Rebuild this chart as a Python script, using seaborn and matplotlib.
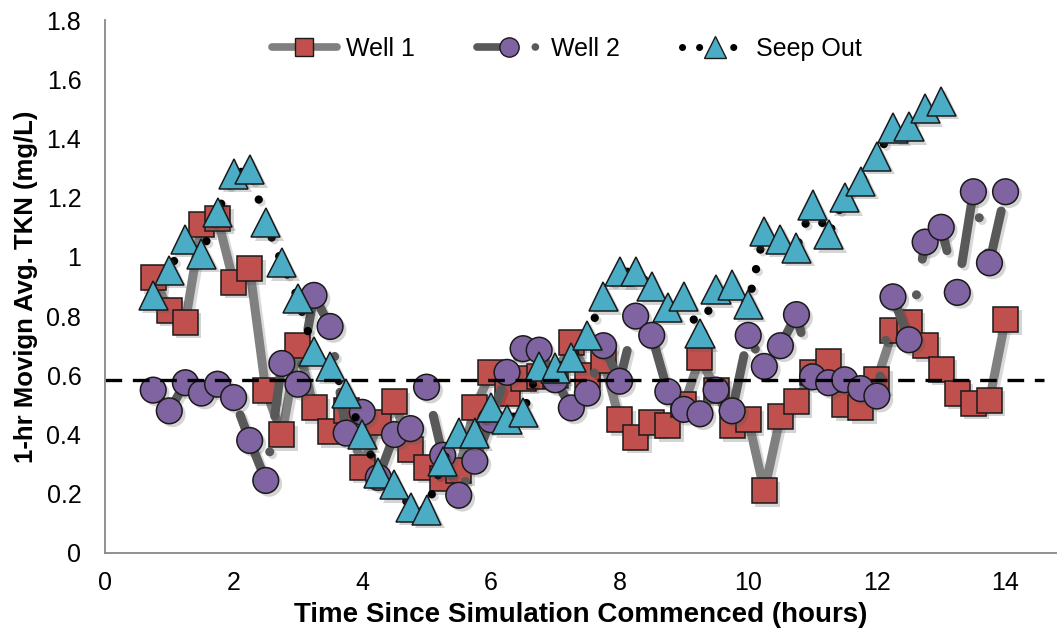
import numpy as np
import matplotlib
matplotlib.use("Agg")
import matplotlib.pyplot as plt
import matplotlib.patheffects as pe
from matplotlib.lines import Line2D
import seaborn as sns

# Sampling times (hours), 15-minute interval
well_hours = np.arange(0.75, 14.0 + 1e-9, 0.25)
seep_hours = np.arange(0.75, 13.0 + 1e-9, 0.25)

well1 = [0.93, 0.82, 0.78, 1.11, 1.13, 0.915, 0.96, 0.55, 0.40, 0.70,
         0.49, 0.41, 0.48, 0.29, 0.44, 0.51, 0.35, 0.29, 0.25, 0.28,
         0.49, 0.61, 0.54, 0.59, 0.595, 0.60, 0.71, 0.60, 0.65, 0.45,
         0.39, 0.44, 0.43, 0.50, 0.66, 0.55, 0.43, 0.45, 0.21, 0.46,
         0.51, 0.61, 0.645, 0.50, 0.49, 0.585, 0.75, 0.78, 0.70, 0.62,
         0.54, 0.505, 0.515, 0.79]

well2 = [0.55, 0.48, 0.575, 0.54, 0.57, 0.525, 0.38, 0.245, 0.64, 0.57,
         0.87, 0.765, 0.405, 0.475, 0.255, 0.40, 0.42, 0.56, 0.33, 0.195,
         0.31, 0.45, 0.61, 0.69, 0.685, 0.585, 0.49, 0.54, 0.70, 0.58,
         0.80, 0.735, 0.545, 0.485, 0.47, 0.55, 0.48, 0.735, 0.63, 0.70,
         0.805, 0.595, 0.575, 0.585, 0.555, 0.53, 0.865, 0.72, 1.05, 1.10,
         0.88, 1.22, 0.98, 1.22]

seep_out = [0.87, 0.955, 1.06, 1.01, 1.15, 1.28, 1.295, 1.115, 0.98, 0.86,
            0.68, 0.63, 0.54, 0.40, 0.27, 0.23, 0.155, 0.145, 0.31, 0.405,
            0.405, 0.49, 0.45, 0.475, 0.63, 0.625, 0.66, 0.735, 0.865, 0.95,
            0.95, 0.90, 0.83, 0.865, 0.74, 0.89, 0.905, 0.84, 1.085, 1.06,
            1.03, 1.175, 1.075, 1.20, 1.255, 1.34, 1.435, 1.44, 1.50, 1.525]

reference_level = 0.585
series_names = ["Well 1", "Well 2", "Seep Out"]
x_ticks = [0, 2, 4, 6, 8, 10, 12, 14]
y_ticks = [0, 0.2, 0.4, 0.6, 0.8, 1, 1.2, 1.4, 1.6, 1.8]
y_tick_labels = ["0", "0.2", "0.4", "0.6", "0.8", "1", "1.2", "1.4", "1.6", "1.8"]

sns.set_theme(style="white")
plt.rcParams["font.family"] = ["Liberation Sans", "DejaVu Sans"]
plt.rcParams["text.color"] = "black"
plt.rcParams["axes.labelcolor"] = "black"

fig = plt.figure(figsize=(10.57, 6.37), dpi=100)
ax = fig.add_axes([0.0993, 0.1319, 0.9007, 0.8367])

line_shadow = [pe.SimpleLineShadow(offset=(2, -2), alpha=0.15, shadow_color="black"), pe.Normal()]
mark_shadow = [pe.SimplePatchShadow(offset=(2.5, -2.5), alpha=0.25, shadow_rgbFace="#555555"), pe.Normal()]

styles = [
    dict(x=well_hours, y=well1, color="#808080", ls="-", lw=6.5,
         marker="s", ms=18, fc="#C0504D", leg_ls="-"),
    dict(x=well_hours, y=well2, color="#595959", ls=(0, (7, 4, 0.01, 4)), lw=6.5,
         marker="o", ms=18.5, fc="#8064A2", leg_ls=(0, (4.2, 3.4, 0.01, 3))),
    dict(x=seep_hours, y=seep_out, color="black", ls=(0, (0.01, 2.4)), lw=6,
         marker="^", ms=21, fc="#4BACC6", leg_ls=(0, (0.01, 2.4))),
]

for st in styles:
    sns.lineplot(x=st["x"], y=st["y"], ax=ax, sort=False, errorbar=None,
                 color=st["color"], linestyle=st["ls"], linewidth=st["lw"],
                 dash_capstyle="round", solid_capstyle="round",
                 path_effects=line_shadow, legend=False)
    sns.lineplot(x=st["x"], y=st["y"], ax=ax, sort=False, errorbar=None,
                 linestyle="none", marker=st["marker"], markersize=st["ms"],
                 markerfacecolor=st["fc"], markeredgecolor="#1a1a1a",
                 markeredgewidth=1.1, path_effects=mark_shadow, legend=False)

ax.axhline(reference_level, xmin=0, xmax=14.6 / 14.8, color="black", lw=2.4,
           linestyle=(0, (5.0, 3.2)))

# Legend proxies combining line and marker
handles = [
    Line2D([], [], color=st["color"], linestyle=st["leg_ls"], linewidth=st["lw"] * 0.85,
           dash_capstyle="round", solid_capstyle="round",
           marker=st["marker"], markersize=st["ms"] * 0.75,
           markerfacecolor=st["fc"], markeredgecolor="#1a1a1a", markeredgewidth=1.0)
    for st in styles
]
leg = ax.legend(handles, series_names, loc="upper center", bbox_to_anchor=(0.485, 1.01),
                ncol=3, frameon=False, fontsize=18, handlelength=2.6,
                handletextpad=0.35, columnspacing=2.5)
for t in leg.get_texts():
    t.set_color("black")

ax.set_xlim(0, 14.8)
ax.set_ylim(0, 1.8)
ax.set_xticks(x_ticks)
ax.set_yticks(y_ticks)
ax.set_yticklabels(y_tick_labels)

ax.set_xlabel("Time Since Simulation Commenced (hours)", fontsize=20,
              fontweight="bold", labelpad=5)
ax.set_ylabel("1-hr Movign Avg. TKN (mg/L)", fontsize=18.5,
              fontweight="bold", labelpad=6)

for side in ["top", "right"]:
    ax.spines[side].set_visible(False)
for side in ["left", "bottom"]:
    ax.spines[side].set_color("#888888")
    ax.spines[side].set_linewidth(1.3)

ax.tick_params(axis="both", which="major", direction="out", length=5, width=1.2,
               color="#888888", labelsize=18, labelcolor="black")
ax.tick_params(axis="x", pad=8)
ax.tick_params(axis="y", pad=12)

fig.savefig("out.png", dpi=100)
